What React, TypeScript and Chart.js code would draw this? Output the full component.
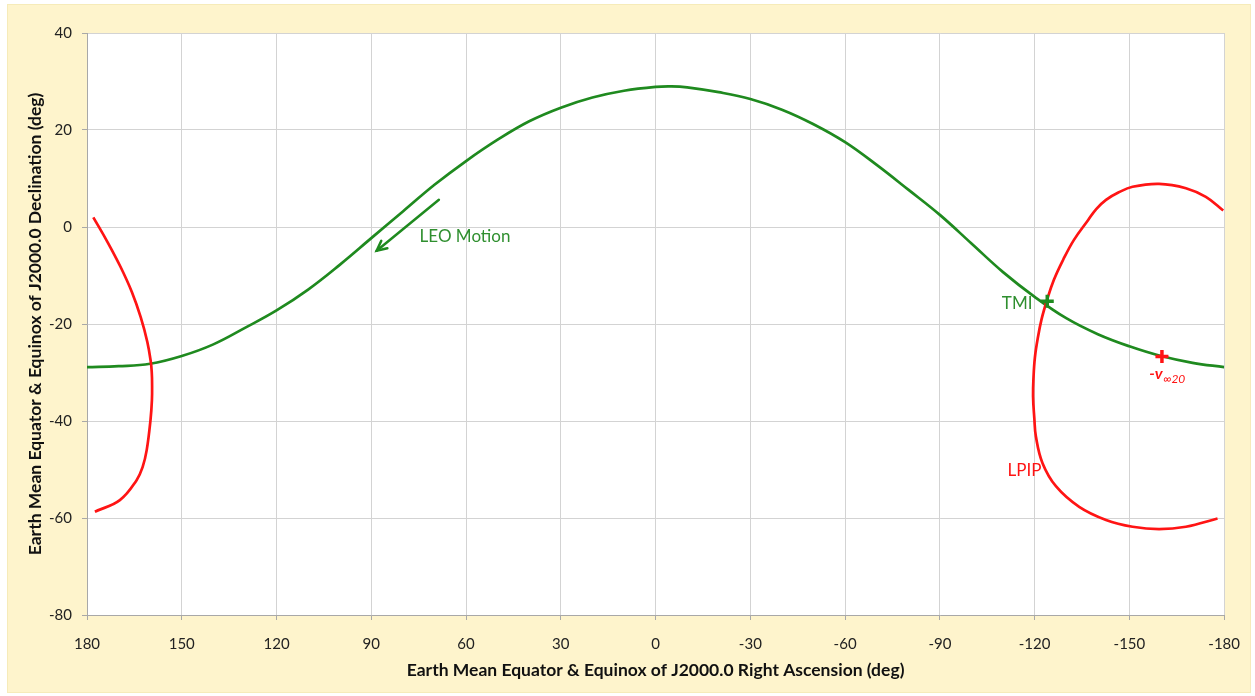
import React, { useEffect, useRef } from 'react';
import { Chart, registerables } from 'chart.js';

Chart.register(...registerables);

// ---- Data ----
// LEO ground track (right ascension, declination), deg
const leoRA = [180, 170, 160, 150, 140, 130, 120, 110, 100, 90, 80, 70, 60, 50, 40, 30, 20, 10, 0, -5, -10, -20, -30, -40, -50, -60, -70, -80, -90, -100, -110, -120, -130, -140, -150, -160, -170, -180];
const leoDec = [-28.9, -28.7, -28.2, -26.6, -24.2, -20.8, -17.2, -12.9, -7.8, -2.3, 3.2, 8.7, 13.6, 18.0, 21.8, 24.6, 26.7, 28.1, 28.9, 29.0, 28.8, 27.8, 26.4, 24.2, 21.2, 17.5, 12.8, 7.7, 2.5, -3.4, -9.3, -14.4, -18.8, -22.1, -24.6, -26.6, -28.0, -28.9];

// LPIP contour, part near RA = +180
const lpipWestRA = [178.0, 173.5, 169.4, 165.8, 163.0, 160.9, 159.8, 159.5, 159.4, 159.45, 159.9, 161.1, 162.4, 164.3, 169.6, 177.5];
const lpipWestDec = [2.0, -3.1, -8.2, -13.4, -18.6, -23.7, -27.8, -30.0, -32.2, -35.7, -39.8, -46.0, -49.5, -52.2, -56.3, -58.7];

// LPIP contour, part near RA = -180
const lpipEastRA = [-179.7, -174.2, -167.9, -159.4, -151.0, -146.5, -142.6, -139.5, -136.9, -132.4, -129.0, -126.1, -123.9, -122.2, -121.0, -120.1, -119.65, -119.5, -119.9, -120.4, -122.5, -126.8, -134.1, -142.6, -151.0, -159.4, -167.9, -177.9];
const lpipEastDec = [3.4, 6.2, 8.0, 8.9, 8.3, 7.1, 5.6, 3.7, 1.4, -2.7, -6.8, -10.9, -15.1, -19.0, -22.9, -26.8, -30.9, -34.9, -39.4, -43.2, -48.7, -53.5, -57.7, -60.4, -61.8, -62.3, -61.8, -60.1];

// Marked points
const tmiRA = [-124.0];
const tmiDec = [-15.3];
const vInfRA = [-160.3];
const vInfDec = [-26.7];

// Axis ticks
const xTickValues = [180, 150, 120, 90, 60, 30, 0, -30, -60, -90, -120, -150, -180];
const yTickValues = [40, 20, 0, -20, -40, -60, -80];

const GREEN = '#1f8a1f';
const GREEN_TEXT = '#2f8f2f';
const RED = '#ff1414';

const toPts = (xs: number[], ys: number[]) => xs.map((x, i) => ({ x, y: ys[i] }));

const backgroundPlugin = {
  id: 'bgPlugin',
  beforeDraw(chart: any) {
    const { ctx, chartArea, width, height } = chart;
    ctx.save();
    ctx.fillStyle = '#ffffff';
    ctx.fillRect(0, 0, width, height);
    ctx.fillStyle = '#fef4cc';
    ctx.fillRect(7, 4, width - 11, height - 7);
    ctx.strokeStyle = '#eee2a6';
    ctx.lineWidth = 1;
    ctx.setLineDash([1, 1]);
    ctx.strokeRect(7.5, 4.5, width - 12, height - 8);
    ctx.setLineDash([]);
    ctx.fillStyle = '#ffffff';
    ctx.fillRect(chartArea.left, chartArea.top, chartArea.right - chartArea.left, chartArea.bottom - chartArea.top);
    ctx.restore();
  },
};

const annotationPlugin = {
  id: 'annoPlugin',
  afterDatasetsDraw(chart: any) {
    const { ctx } = chart;
    const xs = chart.scales.x;
    const ys = chart.scales.y;
    const px = (v: number) => xs.getPixelForValue(v);
    const py = (v: number) => ys.getPixelForValue(v);
    ctx.save();

    // LEO Motion arrow
    const x0 = px(68.6), y0 = py(5.6);
    const x1 = px(88.3), y1 = py(-4.9);
    ctx.strokeStyle = GREEN;
    ctx.lineWidth = 2.5;
    ctx.lineCap = 'round';
    ctx.beginPath();
    ctx.moveTo(x0, y0);
    ctx.lineTo(x1, y1);
    ctx.stroke();
    const ang = Math.atan2(y1 - y0, x1 - x0);
    const head = 11;
    ctx.beginPath();
    ctx.moveTo(x1 - head * Math.cos(ang - 0.45), y1 - head * Math.sin(ang - 0.45));
    ctx.lineTo(x1, y1);
    ctx.lineTo(x1 - head * Math.cos(ang + 0.45), y1 - head * Math.sin(ang + 0.45));
    ctx.stroke();

    ctx.textBaseline = 'middle';
    ctx.font = '17px Lato';
    ctx.fillStyle = GREEN_TEXT;
    ctx.textAlign = 'left';
    ctx.fillText('LEO Motion', px(74.7), py(-1.9));
    ctx.textAlign = 'right';
    ctx.fillText('TMI', px(-119.3), py(-15.7));

    ctx.fillStyle = RED;
    ctx.textAlign = 'left';
    ctx.fillText('LPIP', px(-111.4), py(-50.3));

    // -v∞20 label
    ctx.textBaseline = 'alphabetic';
    const lx = px(-156.3);
    const ly = py(-31.3);
    ctx.font = 'italic bold 16px Lato';
    ctx.fillText('-v', lx, ly);
    const w = ctx.measureText('-v').width;
    ctx.font = 'italic 12px Lato';
    ctx.fillText('\u221E20', lx + w + 0.5, ly + 4);

    ctx.restore();
  },
};

const curve = (label: string, xs: number[], ys: number[], color: string, order: number) => ({
  label,
  data: toPts(xs, ys),
  showLine: true,
  borderColor: color,
  backgroundColor: color,
  borderWidth: 2.7,
  pointRadius: 0,
  pointHoverRadius: 0,
  tension: 0.4,
  fill: false,
  order,
});

const marker = (label: string, xs: number[], ys: number[], color: string) => ({
  label,
  data: toPts(xs, ys),
  showLine: false,
  pointStyle: 'cross',
  pointRadius: 6.5,
  pointBorderWidth: 3.5,
  borderColor: color,
  backgroundColor: color,
  fill: false,
  order: 0,
});

export default function App() {
  const canvasRef = useRef<HTMLCanvasElement | null>(null);

  useEffect(() => {
    if (!canvasRef.current) return;
    Chart.defaults.font.family = 'Lato';
    const chart = new Chart(canvasRef.current, {
      type: 'line',
      data: {
        datasets: [
          marker('TMI', tmiRA, tmiDec, GREEN),
          marker('-v∞20', vInfRA, vInfDec, RED),
          curve('LPIP west', lpipWestRA, lpipWestDec, RED, 1),
          curve('LPIP east', lpipEastRA, lpipEastDec, RED, 1),
          curve('LEO', leoRA, leoDec, GREEN, 2),
        ],
      },
      options: {
        animation: false,
        responsive: false,
        devicePixelRatio: 1,
        layout: { padding: { left: 0, right: 30, top: 33, bottom: 0 } },
        plugins: {
          legend: { display: false },
          tooltip: { enabled: false },
        },
        scales: {
          x: {
            type: 'linear',
            reverse: true,
            min: -180,
            max: 180,
            afterBuildTicks: (s: any) => {
              s.ticks = xTickValues.map((v) => ({ value: v }));
            },
            afterFit: (s: any) => {
              s.height = 81;
            },
            ticks: {
              color: '#222',
              font: { size: 15 },
              padding: 15,
              maxRotation: 0,
              autoSkip: false,
              callback: (v: any) => String(v),
            },
            grid: {
              color: '#d3d3d3',
              lineWidth: 1,
              tickColor: '#a8a8a8',
              tickLength: 5,
            },
            border: { color: '#a8a8a8', width: 1 },
            title: {
              display: true,
              text: 'Earth Mean Equator & Equinox of J2000.0 Right Ascension (deg)',
              color: '#111',
              font: { size: 17.5, weight: 'bold' },
              padding: { top: 0, bottom: 15.5 },
            },
          },
          y: {
            type: 'linear',
            min: -80,
            max: 40,
            afterBuildTicks: (s: any) => {
              s.ticks = yTickValues.map((v) => ({ value: v }));
            },
            afterFit: (s: any) => {
              s.width = 87;
            },
            ticks: {
              color: '#222',
              font: { size: 15 },
              padding: 10,
              autoSkip: false,
              callback: (v: any) => String(v),
            },
            grid: {
              color: '#d3d3d3',
              lineWidth: 1,
              tickColor: '#a8a8a8',
              tickLength: 5,
            },
            border: { color: '#a8a8a8', width: 1 },
            title: {
              display: true,
              text: 'Earth Mean Equator & Equinox of J2000.0 Declination (deg)',
              color: '#111',
              font: { size: 17.5, weight: 'bold' },
              padding: { top: 24.5, bottom: 0 },
            },
          },
        },
      } as any,
      plugins: [backgroundPlugin, annotationPlugin],
    });
    return () => chart.destroy();
  }, []);

  return (
    <div style={{ position: 'absolute', left: 0, top: 0, width: 1255, height: 696 }}>
      <canvas ref={canvasRef} width={1255} height={696} style={{ display: 'block', width: 1255, height: 696 }} />
    </div>
  );
}
